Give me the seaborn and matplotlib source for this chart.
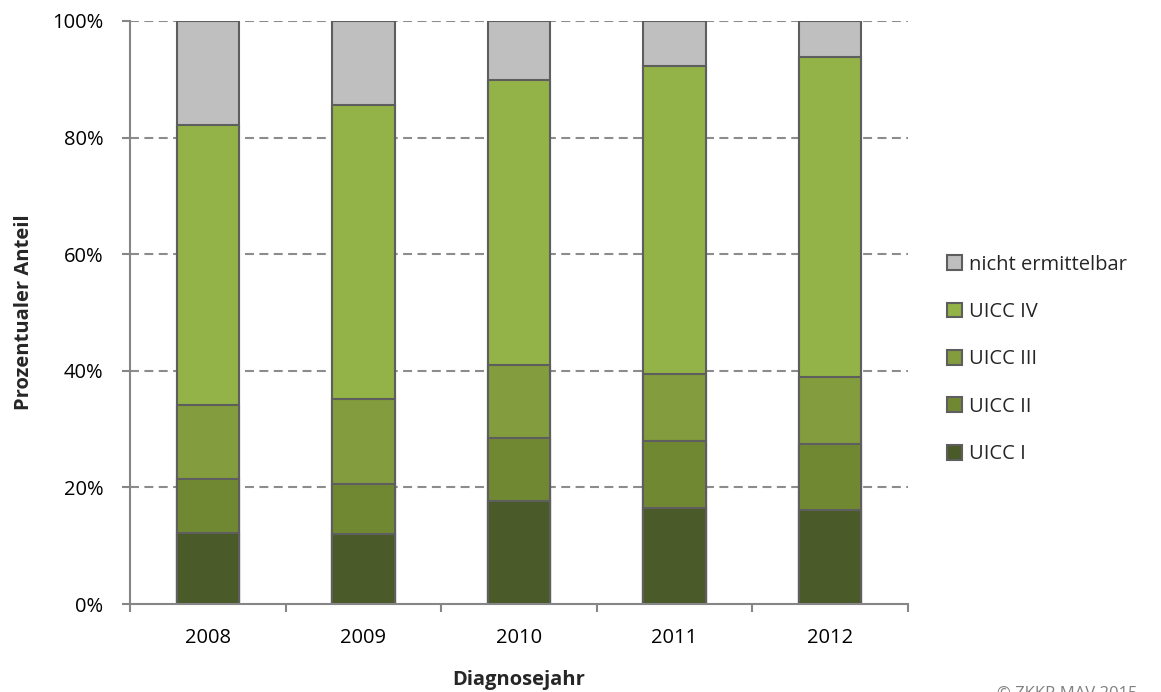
import matplotlib
matplotlib.use("Agg")
import matplotlib.pyplot as plt
from matplotlib.patches import Patch
from matplotlib.ticker import PercentFormatter, FixedLocator
import numpy as np
import seaborn as sns

# Stage distribution per diagnosis year (percent of cases)
years = ["2008", "2009", "2010", "2011", "2012"]
stages = ["UICC I", "UICC II", "UICC III", "UICC IV", "nicht ermittelbar"]
uicc_1 = [12.2, 12.0, 17.7, 16.4, 16.1]
uicc_2 = [9.3, 8.5, 10.8, 11.6, 11.3]
uicc_3 = [12.7, 14.7, 12.5, 11.4, 11.6]
uicc_4 = [47.9, 50.4, 48.9, 52.9, 54.8]
unknown = [17.9, 14.4, 10.1, 7.7, 6.2]
stage_colors = ["#4A5A28", "#718833", "#839C3D", "#93B247", "#BFBFBF"]

sns.set_theme(style="white")
plt.rcParams["font.family"] = ["Open Sans", "DejaVu Sans"]

FS = 14.5
fig = plt.figure(figsize=(11.61, 6.92), dpi=100)
W, H = 1161, 692
ax = fig.add_axes([130 / W, 1 - 604 / H, (908 - 130) / W, (604 - 21) / H])

series = [uicc_1, uicc_2, uicc_3, uicc_4, unknown]
cumulative = np.cumsum(np.array(series), axis=0)

# gridlines behind the bars
ax.set_axisbelow(True)
for v in [20, 40, 60, 80, 100]:
    ax.axhline(v, color="#8C8C8C", lw=1.5, ls=(0, (4.3, 2.6)), zorder=0)

# stacked bars: draw cumulative totals from the top segment down
edge = "#5E5E5E"
for i in range(len(stages) - 1, -1, -1):
    sns.barplot(x=years, y=cumulative[i], color=stage_colors[i], width=0.4,
                edgecolor=edge, linewidth=1.5, saturation=1, ax=ax, zorder=2)

ax.set_xlim(-0.5, len(years) - 0.5)
ax.set_ylim(0, 100)

for s in ["top", "right"]:
    ax.spines[s].set_visible(False)
for s in ["left", "bottom"]:
    ax.spines[s].set_color("#868686")
    ax.spines[s].set_linewidth(1.5)

ax.yaxis.set_major_locator(FixedLocator([0, 20, 40, 60, 80, 100]))
ax.yaxis.set_major_formatter(PercentFormatter(decimals=0))
ax.tick_params(axis="y", which="major", direction="out", length=6, width=1.5,
               color="#868686", labelsize=FS, labelcolor="#000000", pad=13, left=True)

# category boundaries carry the x tick marks
ax.set_xticks(np.arange(-0.5, len(years), 1.0), minor=True)
ax.tick_params(axis="x", which="minor", direction="out", length=6, width=1.5,
               color="#868686", bottom=True)
ax.tick_params(axis="x", which="major", length=0, labelsize=FS,
               labelcolor="#000000", pad=17)

ax.set_xlabel("Diagnosejahr", fontsize=FS, fontweight="bold", labelpad=16)
ax.set_ylabel("Prozentualer Anteil", fontsize=FS, fontweight="bold", labelpad=13)

handles = [Patch(facecolor=c, edgecolor=edge, linewidth=1.5) for c in stage_colors]
fig.legend(handles[::-1], stages[::-1], loc="center left",
           bbox_to_anchor=(947 / W, 1 - 359.5 / H), frameon=False,
           fontsize=FS, labelspacing=1.36, handlelength=0.75, handleheight=0.75,
           handletextpad=0.35, borderpad=0, borderaxespad=0)

fig.text(997 / W, 1 - 686 / H, "© ZKKR MAV 2015", fontsize=12, color="#7F7F7F",
         ha="left", va="top")

fig.savefig("out.png", dpi=100)
